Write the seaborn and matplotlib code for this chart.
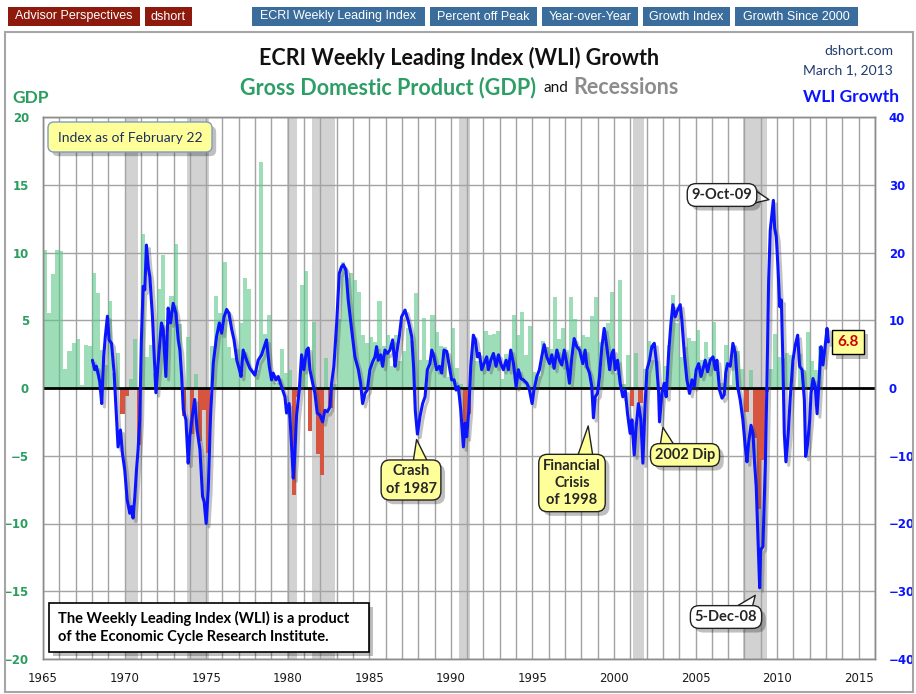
import numpy as np
import matplotlib
matplotlib.use("Agg")
import matplotlib.pyplot as plt
import matplotlib.patches as patches
import matplotlib.patheffects as pe
from matplotlib.transforms import IdentityTransform
import seaborn as sns

# === Data ===
gdp_start_year = 1965
# real GDP, annualized quarterly growth (%), 1965Q1 .. 2012Q4
gdp_growth = [
    10.2, 5.5, 8.4, 10.2,   10.1, 1.4, 2.7, 3.3,   3.6, 0.2, 3.2, 3.1,
    8.5, 7.0, 2.8, 1.7,     6.4, 1.1, 2.6, -1.9,   -0.6, 0.7, 3.6, -4.2,
    11.4, 2.3, 3.2, 1.1,    7.3, 9.8, 3.9, 6.8,    10.6, 4.7, -2.1, 3.8,
    -3.4, 1.0, -3.9, -1.6,  -4.8, 3.1, 6.8, 5.5,   9.3, 3.0, 2.2, 2.9,
    4.8, 8.1, 7.3, 0.0,     1.3, 16.7, 4.0, 5.4,   0.7, 0.4, 2.9, 1.1,
    1.3, -7.9, -0.7, 7.6,   8.6, -3.2, 4.9, -4.9,  -6.4, 2.2, -1.5, 0.3,
    5.1, 9.3, 8.1, 8.5,     8.0, 7.1, 3.9, 3.3,    3.8, 3.4, 6.4, 3.1,
    3.9, 1.6, 3.9, 2.0,     2.7, 4.4, 3.5, 7.0,    2.1, 5.2, 2.1, 5.4,
    4.1, 3.1, 3.0, 0.8,     4.4, 1.5, 0.3, -3.6,   -1.9, 3.1, 2.0, 1.9,
    4.2, 3.9, 4.0, 4.2,     0.7, 2.5, 1.9, 5.4,    3.9, 5.6, 2.4, 4.6,
    1.2, 0.9, 3.5, 3.0,     2.9, 6.7, 3.6, 4.4,    2.8, 6.7, 5.1, 3.1,
    3.9, 3.8, 5.3, 6.7,     3.4, 3.4, 4.8, 7.1,    1.1, 8.0, 0.3, 2.4,
    -1.3, 2.6, -1.1, 1.4,   3.5, 2.1, 2.0, 0.1,    1.6, 3.2, 6.9, 4.8,
    2.3, 3.0, 3.7, 3.5,     4.3, 2.1, 3.4, 2.3,    4.9, 1.2, 0.4, 3.2,
    0.2, 3.1, 2.7, 1.4,     -1.8, 1.3, -3.7, -8.9, -5.3, -0.3, 1.4, 4.0,
    2.3, 2.2, 2.6, 2.4,     0.1, 2.5, 1.3, 4.1,    2.0, 1.3, 3.1, 0.1,
]

recession_start = [1970.0, 1973.84, 1979.97, 1981.5, 1990.5, 2001.14, 2007.9]
recession_end = [1970.85, 1975.18, 1980.55, 1982.9, 1991.16, 2001.85, 2009.38]

# ECRI WLI growth (decimal year, %)
wli_dates = [
    1968.03, 1968.17, 1968.27, 1968.37, 1968.48, 1968.6, 1968.72, 1968.82, 1968.95, 1969.05,
    1969.2, 1969.36, 1969.5, 1969.6, 1969.75, 1969.87, 1970.01, 1970.16, 1970.32, 1970.42,
    1970.52, 1970.63, 1970.73, 1970.83, 1970.93, 1971.03, 1971.14, 1971.24, 1971.34, 1971.45,
    1971.55, 1971.71, 1971.92, 1972.06, 1972.26, 1972.37, 1972.53, 1972.67, 1972.82, 1972.98,
    1973.15, 1973.29, 1973.39, 1973.5, 1973.6, 1973.76, 1973.9, 1974.0, 1974.15, 1974.3,
    1974.45, 1974.62, 1974.78, 1974.88, 1975.0, 1975.13, 1975.27, 1975.44, 1975.64, 1975.81,
    1975.95, 1976.1, 1976.26, 1976.4, 1976.57, 1976.71, 1976.88, 1977.04, 1977.14, 1977.27,
    1977.48, 1977.68, 1977.99, 1978.19, 1978.4, 1978.7, 1978.87, 1979.01, 1979.11, 1979.28,
    1979.42, 1979.62, 1979.83, 1979.93, 1980.09, 1980.24, 1980.34, 1980.44, 1980.54, 1980.71,
    1980.85, 1980.99, 1981.16, 1981.26, 1981.36, 1981.53, 1981.67, 1981.81, 1981.98, 1982.14,
    1982.28, 1982.43, 1982.59, 1982.69, 1982.83, 1983.0, 1983.16, 1983.3, 1983.41, 1983.57,
    1983.71, 1983.92, 1984.12, 1984.33, 1984.47, 1984.59, 1984.74, 1984.88, 1985.04, 1985.21,
    1985.35, 1985.45, 1985.55, 1985.7, 1985.82, 1985.96, 1986.11, 1986.27, 1986.43, 1986.58,
    1986.68, 1986.84, 1986.98, 1987.19, 1987.4, 1987.6, 1987.72, 1987.82, 1987.95, 1988.11,
    1988.27, 1988.42, 1988.56, 1988.72, 1988.83, 1988.97, 1989.13, 1989.3, 1989.44, 1989.58,
    1989.75, 1989.91, 1990.05, 1990.2, 1990.32, 1990.46, 1990.61, 1990.77, 1990.87, 1990.97,
    1991.1, 1991.22, 1991.38, 1991.5, 1991.63, 1991.75, 1991.89, 1992.04, 1992.2, 1992.3,
    1992.45, 1992.61, 1992.77, 1992.92, 1993.06, 1993.22, 1993.39, 1993.53, 1993.67, 1993.84,
    1994.0, 1994.14, 1994.29, 1994.45, 1994.66, 1994.82, 1994.98, 1995.1, 1995.27, 1995.43,
    1995.57, 1995.72, 1995.88, 1996.05, 1996.19, 1996.33, 1996.5, 1996.66, 1996.8, 1996.95,
    1997.11, 1997.27, 1997.42, 1997.56, 1997.72, 1997.89, 1998.09, 1998.23, 1998.34, 1998.5,
    1998.64, 1998.74, 1998.85, 1998.99, 1999.11, 1999.26, 1999.4, 1999.56, 1999.73, 1999.87,
    1999.97, 2000.07, 2000.22, 2000.38, 2000.54, 2000.69, 2000.83, 2000.99, 2001.1, 2001.24,
    2001.36, 2001.5, 2001.65, 2001.77, 2001.91, 2002.02, 2002.18, 2002.32, 2002.47, 2002.59,
    2002.73, 2002.79, 2002.94, 2003.08, 2003.2, 2003.35, 2003.49, 2003.61, 2003.75, 2003.9,
    2004.06, 2004.16, 2004.31, 2004.47, 2004.63, 2004.78, 2004.92, 2005.04, 2005.19, 2005.33,
    2005.45, 2005.59, 2005.74, 2005.9, 2006.07, 2006.21, 2006.31, 2006.47, 2006.62, 2006.76,
    2006.85, 2006.96, 2007.13, 2007.29, 2007.44, 2007.58, 2007.74, 2007.9, 2008.05, 2008.15,
    2008.25, 2008.4, 2008.52, 2008.62, 2008.72, 2008.81, 2008.93, 2008.99, 2009.13, 2009.28,
    2009.38, 2009.48, 2009.58, 2009.77, 2009.85, 2009.95, 2010.05, 2010.16, 2010.26, 2010.36,
    2010.44, 2010.54, 2010.67, 2010.81, 2010.97, 2011.12, 2011.26, 2011.38, 2011.53, 2011.67,
    2011.75, 2011.87, 2012.0, 2012.08, 2012.2, 2012.34, 2012.45, 2012.57, 2012.69, 2012.81,
    2012.94, 2013.06, 2013.14,
]
wli_growth = [
    4.1, 2.7, 3.2, 2.2, 0.9, -2.3, 4.6, 7.6, 10.6, 7.1,
    6.6, 2.2, -4.2, -8.7, -6.2, -9.7, -12.1, -16.5, -18.5, -17.5,
    -19.2, -16.0, -12.1, -9.1, -4.7, 7.1, 15.0, 14.5, 21.1, 17.9,
    16.4, 10.5, -0.7, 3.7, 9.6, 8.6, 1.7, 11.8, 9.6, 12.5,
    11.0, 7.1, 5.6, 1.7, -3.2, -4.7, -11.1, -7.2, -4.2, -1.7,
    -6.2, -9.1, -16.0, -16.8, -20.0, -15.0, -4.2, 3.7, 7.6, 9.6,
    8.1, 10.5, 11.6, 11.0, 8.6, 7.1, 4.1, 2.7, 1.7, 5.6,
    4.1, 2.9, 1.9, 4.1, 4.9, 7.1, 3.2, 1.2, 2.2, 1.2,
    1.7, 0.2, -1.3, -3.7, -2.3, -8.7, -13.3, -9.6, -4.2, -0.3,
    4.9, 2.7, 5.6, 5.9, 2.7, 0.7, -0.8, -3.7, -4.0, -5.0,
    -3.3, -3.5, -2.8, 0.7, 3.2, 9.5, 16.9, 17.9, 18.2, 17.4,
    13.0, 8.6, 4.6, 2.7, 0.7, -2.3, -0.8, -0.3, 2.7, 3.9,
    4.6, 6.1, 4.1, 4.9, 3.2, 5.6, 5.1, 5.6, 7.1, 3.2,
    5.1, 7.6, 10.5, 11.5, 9.8, 7.6, 3.0, -3.3, -6.8, -4.2,
    -2.3, -1.3, 2.7, 3.6, 5.6, 4.6, 2.7, 3.2, 2.2, 5.6,
    5.4, 3.2, 1.2, 1.2, -0.3, 0.2, -3.3, -8.7, -5.2, -7.2,
    -3.3, 3.2, 7.8, 7.1, 4.6, 5.1, 2.7, 3.6, 4.6, 2.7,
    4.1, 5.1, 3.2, 4.9, 3.6, 2.7, 4.1, 2.7, 5.6, 3.6,
    0.2, 2.7, 1.4, 1.2, 0.7, -0.3, -2.3, -0.3, 1.7, 2.7,
    4.6, 6.4, 4.6, 3.6, 4.9, 2.9, 5.6, 4.1, 3.4, 5.6,
    3.6, 0.7, 4.6, 7.3, 6.1, 5.6, 3.6, 5.6, 3.2, 2.2,
    0.2, -4.4, -1.3, -0.8, 1.7, 6.1, 8.8, 6.1, 2.7, 5.1,
    5.6, 2.7, 4.1, 0.7, -1.3, -0.3, -3.8, -6.7, -4.7, -9.9,
    -5.7, -2.3, -4.7, -11.1, -2.3, 2.7, 4.1, 6.1, 6.6, 4.1,
    -0.3, -5.0, -0.8, 0.7, -1.3, 5.1, 9.5, 12.3, 10.5, 11.5,
    12.3, 10.0, 5.1, 1.2, -0.8, 1.2, 0.2, 2.7, 3.6, 1.7,
    2.7, 4.1, 2.4, 4.1, 4.6, 2.7, 4.1, -0.3, -1.5, -1.0,
    2.2, 3.6, 3.2, 6.6, 5.1, 0.2, -1.8, -4.7, -8.7, -10.9,
    -8.2, -5.5, -6.7, -11.1, -14.6, -21.0, -29.5, -23.9, -23.4, -11.1,
    1.2, 15.9, 23.3, 27.7, 23.6, 22.3, 17.9, 12.0, 13.0, 3.2,
    -6.7, -10.9, -7.2, -1.3, 4.1, 6.4, 7.8, 3.2, 2.7, -1.8,
    -10.1, -8.2, -4.7, -0.8, 1.4, 0.2, -3.8, 1.2, 6.1, 3.4,
    6.1, 8.8, 6.8,
]
wli_last_label = "6.8"

# === Setup ===
sns.set_theme(style="white")
plt.rcParams["font.family"] = ["DejaVu Sans"]

W, H = 916, 694
fig = plt.figure(figsize=(W / 100, H / 100), dpi=100)
fig.patch.set_facecolor("white")
PIX = IdentityTransform()

def fx(px):
    return px / W

def fy(py):
    return 1 - py / H

GREEN_TXT = "#2a9d5f"
BLUE = "#0a14ff"
TITLE_FONT = ["Lato", "DejaVu Sans"]

# outer frame
fig.add_artist(patches.Rectangle((5, H - 692), 908, 660, transform=PIX, fill=False,
                                 ec="#a6a6a6", lw=1.5))

# nav buttons
buttons = [
    ("Advisor Perspectives", 8, 140, "#8e1a0e"),
    ("dshort", 145, 192, "#8e1a0e"),
    ("ECRI Weekly Leading Index", 252, 425, "#3b6d9c"),
    ("Percent off Peak", 430, 537, "#3b6d9c"),
    ("Year-over-Year", 542, 638, "#3b6d9c"),
    ("Growth Index", 643, 730, "#3b6d9c"),
    ("Growth Since 2000", 735, 858, "#3b6d9c"),
]
for label, x0, x1, col in buttons:
    fig.add_artist(patches.Rectangle((x0, H - 26), x1 - x0, 19, transform=PIX,
                                     fc=col, ec="none"))
    fig.text(fx((x0 + x1) / 2), fy(16.5), label, ha="center", va="center", color="white",
             fontsize=9, family=["Liberation Sans"])

# === Axes ===
ax = fig.add_axes([fx(43), fy(659), fx(875) - fx(43), fy(117) - fy(659)])
ax.set_facecolor("white")

for s, e in zip(recession_start, recession_end):
    ax.axvspan(s, e, color="#b4b4b4", alpha=0.6, lw=0, zorder=0.3)

quarters = gdp_start_year + np.arange(len(gdp_growth)) / 4
gdp = np.array(gdp_growth)
bar_colors = [(0.36, 0.78, 0.54, 0.6) if v >= 0 else (0.84, 0.33, 0.25, 1.0) for v in gdp]
ax.bar(quarters, gdp, width=0.25, align="edge", color=bar_colors, lw=0, zorder=1)
ax.axhline(0, color="black", lw=2, zorder=2)

ax.set_xlim(1965, 2016)
ax.set_ylim(-20, 20)
ax.set_xticks(range(1965, 2016, 5))
ax.set_xticks(range(1966, 2017), minor=True)
ax.set_yticks(range(-20, 21, 5))
ax.tick_params(axis="both", which="both", length=0)
ax.tick_params(axis="x", pad=9, labelsize=8.5, labelcolor="#1a1a1a")
ax.tick_params(axis="y", pad=10, labelsize=8.5, labelcolor=GREEN_TXT)
for t in ax.get_yticklabels():
    t.set_fontweight("bold")
ax.grid(which="both", axis="x", color="#a3a3a3", lw=1)
ax.grid(which="major", axis="y", color="#a3a3a3", lw=1)
ax.set_axisbelow(True)

ax2 = ax.twinx()
sns.lineplot(x=wli_dates, y=wli_growth, ax=ax2, color=BLUE, lw=2.2, zorder=4,
             path_effects=[pe.SimpleLineShadow(offset=(2, -2.5), shadow_color="#555555", alpha=0.35),
                           pe.Normal()])
ax2.set_xlim(1965, 2016)
ax2.set_ylim(-40, 40)
ax2.set_yticks(range(-40, 41, 10))
ax2.set_xlabel("")
ax2.set_ylabel("")
ax2.tick_params(axis="y", length=0, pad=10, labelsize=8.5, labelcolor=BLUE)
for t in ax2.get_yticklabels():
    t.set_fontweight("bold")
ax2.grid(False)
for a in (ax, ax2):
    for sp in a.spines.values():
        sp.set_color("#8c8c8c")
        sp.set_linewidth(1)

# === Titles ===
fig.text(fx(459), fy(58), "ECRI Weekly Leading Index (WLI) Growth", ha="center", va="center",
         fontsize=15.5, fontweight="bold", color="#111111", family=TITLE_FONT)

renderer = fig.canvas.get_renderer()
pieces = [("Gross Domestic Product (GDP)", "#2e9e66", 15.5, "bold", 0),
          ("and", "#111111", 11, "normal", 7),
          ("Recessions", "#8c8c8c", 15.5, "bold", 5)]
texts = []
for s, c, size, w, gap in pieces:
    t = fig.text(0, fy(88), s, ha="left", va="center", fontsize=size, fontweight=w,
                 color=c, family=TITLE_FONT)
    texts.append((t, t.get_window_extent(renderer).width, gap))
total = sum(wd + g for _, wd, g in texts)
x = 459.5 - total / 2
for t, wd, g in texts:
    x += g
    t.set_x(fx(x))
    x += wd

fig.text(fx(12), fy(98), "GDP", ha="left", va="center", fontsize=12.5, fontweight="bold",
         color=GREEN_TXT, family=TITLE_FONT)
fig.text(fx(899), fy(97), "WLI Growth", ha="right", va="center", fontsize=12.5,
         fontweight="bold", color=BLUE, family=TITLE_FONT)
fig.text(fx(893), fy(51), "dshort.com", ha="right", va="center", fontsize=10,
         color="#1f3a6e", family=TITLE_FONT)
fig.text(fx(893), fy(70), "March 1, 2013", ha="right", va="center", fontsize=10,
         color="#1f3a6e", family=TITLE_FONT)

# === Boxes ===
shadow = [pe.SimplePatchShadow(offset=(3, -3), shadow_rgbFace="#000000", alpha=0.25), pe.Normal()]

def pixel_box(x0, y0, x1, y1, fc, ec, style, lw=1):
    p = patches.FancyBboxPatch((x0, H - y1), x1 - x0, y1 - y0, boxstyle=style, transform=PIX,
                               fc=fc, ec=ec, lw=lw, zorder=6)
    p.set_path_effects(shadow)
    fig.add_artist(p)

pixel_box(48, 122, 212, 152, "#ffff99", "#7f9cc4", "round,pad=0,rounding_size=6")
fig.text(fx(130), fy(137.5), "Index as of February 22", ha="center", va="center",
         fontsize=10, color="#1f2f5e", family=TITLE_FONT, zorder=7)

pixel_box(49, 603, 369, 652, "white", "black", "square,pad=0", lw=1.2)
fig.text(fx(58), fy(627.5), "The Weekly Leading Index (WLI) is a product\nof the Economic Cycle Research Institute.",
         ha="left", va="center", fontsize=10.5, fontweight="bold", color="black",
         family=TITLE_FONT, linespacing=1.35, zorder=7)

def callout(text, tip, center, fc, relpos):
    a = ax2.annotate(text, xy=tip, xycoords="data", xytext=(center[0], H - center[1]),
                     textcoords="figure pixels", ha="center", va="center", fontsize=10.5,
                     fontweight="bold", family=TITLE_FONT, linespacing=1.3, zorder=8,
                     bbox=dict(boxstyle="round,pad=0.3,rounding_size=0.6", fc=fc, ec="#222222", lw=1),
                     arrowprops=dict(arrowstyle="wedge,tail_width=1.3,shrink_factor=0.5",
                                     fc=fc, ec="#222222", lw=1, relpos=relpos,
                                     shrinkA=0, shrinkB=0, patchA=None))
    a.get_bbox_patch().set_path_effects(shadow)
    return a

callout("Crash\nof 1987", (1987.9, -7.6), (411, 480), "#ffff99", (0.7, 0.85))
callout("Financial\nCrisis\nof 1998", (1998.42, -5.6), (572, 483), "#ffff99", (0.72, 0.9))
callout("2002 Dip", (2003.0, -5.8), (685, 455), "#ffff99", (0.22, 0.7))
callout("9-Oct-09", (2009.5, 27.8), (722, 195), "white", (0.92, 0.45))
callout("5-Dec-08", (2008.66, -30.6), (726, 617), "white", (0.75, 0.75))

t = fig.text(fx(848), fy(342), wli_last_label, ha="center", va="center", fontsize=11,
             fontweight="bold", color="#cc0000", family=TITLE_FONT, zorder=8,
             bbox=dict(boxstyle="square,pad=0.35", fc="#ffff99", ec="black", lw=1))
t.get_bbox_patch().set_path_effects(shadow)

fig.savefig("out.png", dpi=100, facecolor="white")
